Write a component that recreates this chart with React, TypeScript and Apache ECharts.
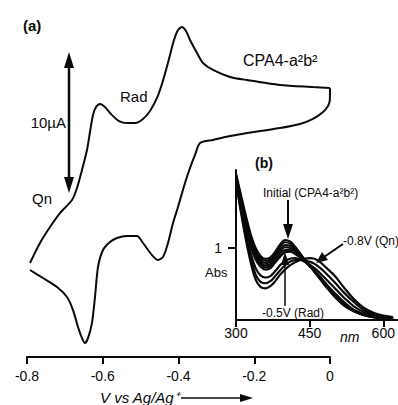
import React, { useEffect, useRef } from "react";
import * as echarts from "echarts";

// Cyclic voltammogram (a): potential in V vs Ag/Ag+, current in µA (arbitrary offset)
const cvUpperV = [0.0, -0.0449, -0.132, -0.2192, -0.264, -0.3089, -0.3353, -0.3511, -0.3696, -0.3802, -0.3908, -0.4013, -0.4119, -0.4224, -0.433, -0.4436, -0.4568, -0.4752, -0.4937, -0.5149, -0.536, -0.5571, -0.5782, -0.5941, -0.6073, -0.6178, -0.6257, -0.6337, -0.6416, -0.6548, -0.668, -0.6812, -0.7129, -0.7393, -0.7657, -0.7921];
const cvUpperI = [11.57, 11.64, 11.79, 12.14, 12.36, 12.86, 13.36, 14.07, 15.0, 15.64, 15.93, 15.71, 15.0, 13.93, 12.86, 11.86, 10.86, 9.93, 9.36, 9.07, 9.07, 9.21, 9.71, 10.21, 10.43, 10.21, 9.64, 8.43, 7.14, 5.71, 4.43, 3.57, 2.64, 1.64, 0.5, -0.93];
const cvLowerV = [-0.7921, -0.7578, -0.7208, -0.6944, -0.6785, -0.6653, -0.6548, -0.6469, -0.6389, -0.6284, -0.6205, -0.6125, -0.5993, -0.5809, -0.5624, -0.536, -0.5096, -0.4937, -0.47, -0.4541, -0.4409, -0.4277, -0.4145, -0.4013, -0.396, -0.3828, -0.3696, -0.3564, -0.3432, -0.3089, -0.264, -0.2192, -0.1848, -0.132, -0.0792, -0.0449, -0.0185, -0.0053, -0.0005, 0.0];
const cvLowerI = [-1.43, -2.0, -2.64, -3.36, -4.29, -5.5, -6.29, -6.64, -6.29, -5.21, -3.36, -1.21, 0.0, 0.57, 0.86, 1.0, 1.0, 0.5, -0.36, -0.71, -0.5, 0.5, 1.93, 3.07, 3.57, 4.79, 5.86, 6.79, 7.64, 7.86, 8.14, 8.36, 8.5, 8.71, 9.0, 9.36, 9.86, 10.29, 10.71, 11.57];
const cvTicks = [-0.8, -0.6, -0.4, -0.2, 0];

// Spectra (b): wavelength in nm, absorbance
const wavelengths = [300, 310, 320, 330, 340, 350, 360, 370, 380, 390, 400, 410, 420, 430, 440, 450, 460, 470, 480, 500, 520, 540, 560, 580, 600, 620];
const specInitial = [2.03, 1.74, 1.45, 1.19, 1.0, 0.89, 0.85, 0.87, 0.95, 1.05, 1.11, 1.09, 1.02, 0.93, 0.84, 0.76, 0.67, 0.58, 0.49, 0.33, 0.2, 0.12, 0.07, 0.04, 0.025, 0.02];
const spec2 = [2.01, 1.71, 1.41, 1.15, 0.96, 0.86, 0.82, 0.84, 0.92, 1.02, 1.08, 1.06, 1.0, 0.92, 0.83, 0.76, 0.67, 0.59, 0.5, 0.34, 0.21, 0.12, 0.07, 0.04, 0.025, 0.02];
const spec3 = [1.99, 1.69, 1.38, 1.11, 0.93, 0.83, 0.79, 0.81, 0.89, 0.98, 1.04, 1.03, 0.98, 0.9, 0.83, 0.75, 0.67, 0.59, 0.5, 0.35, 0.22, 0.13, 0.07, 0.04, 0.025, 0.02];
const spec4 = [1.98, 1.67, 1.35, 1.08, 0.9, 0.8, 0.76, 0.78, 0.86, 0.95, 1.01, 1.0, 0.96, 0.89, 0.82, 0.75, 0.68, 0.6, 0.51, 0.36, 0.23, 0.13, 0.08, 0.045, 0.03, 0.02];
const spec5 = [1.97, 1.65, 1.32, 1.05, 0.87, 0.77, 0.73, 0.75, 0.83, 0.92, 0.97, 0.97, 0.94, 0.88, 0.82, 0.75, 0.68, 0.6, 0.52, 0.37, 0.24, 0.14, 0.08, 0.045, 0.03, 0.02];
const specRad = [1.95, 1.63, 1.29, 1.02, 0.84, 0.74, 0.7, 0.72, 0.8, 0.88, 0.94, 0.95, 0.92, 0.87, 0.81, 0.75, 0.68, 0.61, 0.53, 0.38, 0.25, 0.14, 0.08, 0.045, 0.03, 0.02];
const spec7 = [1.94, 1.57, 1.22, 0.93, 0.72, 0.62, 0.59, 0.61, 0.68, 0.76, 0.82, 0.85, 0.86, 0.84, 0.81, 0.77, 0.72, 0.66, 0.59, 0.45, 0.31, 0.19, 0.11, 0.065, 0.04, 0.03];
const spec8 = [1.93, 1.53, 1.17, 0.86, 0.63, 0.53, 0.51, 0.54, 0.61, 0.69, 0.76, 0.81, 0.83, 0.84, 0.83, 0.81, 0.78, 0.73, 0.67, 0.53, 0.38, 0.25, 0.14, 0.08, 0.05, 0.035];
const specQn = [1.92, 1.5, 1.12, 0.8, 0.56, 0.46, 0.44, 0.47, 0.54, 0.63, 0.7, 0.76, 0.8, 0.83, 0.85, 0.86, 0.85, 0.81, 0.75, 0.62, 0.45, 0.29, 0.17, 0.1, 0.06, 0.04];
const insetXTicks = [300, 450, 600];
const insetYTicks = [1];

const FONT = "'Liberation Sans', Arial, sans-serif";
const INK = "#0a0a0a";

function pairs(xs: number[], ys: number[]) {
  return xs.map((x, i) => [x, ys[i]]);
}

function txt(text: string, x: number, y: number, size: number, opts: any = {}) {
  return {
    type: "text",
    x,
    y,
    silent: true,
    style: {
      text,
      font: `${opts.italic ? "italic " : ""}${opts.bold ? "bold " : ""}${size}px ${FONT}`,
      fill: INK,
      textAlign: opts.align || "left",
      textVerticalAlign: "middle",
      verticalAlign: "middle",
    },
  };
}

function line(x1: number, y1: number, x2: number, y2: number, w = 2) {
  return { type: "line", silent: true, shape: { x1, y1, x2, y2 }, style: { stroke: INK, lineWidth: w } };
}

function head(points: number[][]) {
  return { type: "polygon", silent: true, shape: { points }, style: { fill: INK } };
}

export default function App() {
  const ref = useRef<HTMLDivElement>(null);
  useEffect(() => {
    if (!ref.current) return;
    const chart = echarts.init(ref.current, null, { renderer: "svg" });
    const specs = [specInitial, spec2, spec3, spec4, spec5, specRad, spec7, spec8, specQn];
    const option: any = {
      animation: false,
      backgroundColor: "#ffffff",
      grid: [
        { left: 27, top: 20, width: 303, height: 337 },
        { left: 236, top: 170, width: 162, height: 150 },
      ],
      xAxis: [
        {
          type: "value",
          gridIndex: 0,
          min: -0.8,
          max: 0,
          interval: 0.2,
          axisLine: { onZero: false, lineStyle: { color: INK, width: 2 } },
          axisTick: { show: true, inside: false, length: 7, lineStyle: { color: INK, width: 2 } },
          axisLabel: {
            color: INK,
            fontSize: 14,
            fontFamily: FONT,
            margin: 12,
            customValues: cvTicks,
            formatter: (v: number) => (Math.abs(v) < 1e-9 ? "0" : v.toFixed(1)),
          },
          splitLine: { show: false },
        },
        {
          type: "value",
          gridIndex: 1,
          min: 300,
          max: 630,
          axisLine: { onZero: false, lineStyle: { color: INK, width: 2 } },
          axisTick: { show: true, inside: false, length: 7, customValues: insetXTicks, lineStyle: { color: INK, width: 2 } },
          axisLabel: { color: INK, fontSize: 14, fontFamily: FONT, margin: 6, customValues: insetXTicks },
          splitLine: { show: false },
        },
      ],
      yAxis: [
        { type: "value", gridIndex: 0, min: -7.643, max: 16.429, show: false },
        {
          type: "value",
          gridIndex: 1,
          min: 0,
          max: 2.083,
          axisLine: { show: true, onZero: false, lineStyle: { color: INK, width: 2 } },
          axisTick: { show: true, inside: false, length: 8, customValues: insetYTicks, lineStyle: { color: INK, width: 2 } },
          axisLabel: { show: true, color: INK, fontSize: 14, fontFamily: FONT, margin: 14, customValues: insetYTicks },
          splitLine: { show: false },
        },
      ],
      series: [
        {
          type: "line",
          xAxisIndex: 0,
          yAxisIndex: 0,
          data: pairs(cvUpperV, cvUpperI),
          showSymbol: false,
          smooth: 0.25,
          lineStyle: { color: INK, width: 2 },
          silent: true,
        },
        {
          type: "line",
          xAxisIndex: 0,
          yAxisIndex: 0,
          data: pairs(cvLowerV, cvLowerI),
          showSymbol: false,
          smooth: 0.25,
          lineStyle: { color: INK, width: 2 },
          silent: true,
        },
        ...specs.map((s) => ({
          type: "line",
          xAxisIndex: 1,
          yAxisIndex: 1,
          data: pairs(wavelengths, s),
          showSymbol: false,
          smooth: 0.4,
          lineStyle: { color: INK, width: 2.2 },
          silent: true,
        })),
      ],
      graphic: [
        txt("(a)", 23, 25, 15, { bold: true }),
        txt("10µA", 66, 122, 15, { align: "right" }),
        line(69, 62, 69, 183, 2.5),
        head([[69, 52], [64, 68], [74, 68]]),
        head([[69, 193], [64, 177], [74, 177]]),
        txt("Rad", 120, 96, 15),
        txt("Qn", 32, 198, 15),
        txt("CPA4-a²b²", 243, 60, 16),
        txt("(b)", 255, 163, 14, { bold: true }),
        txt("Initial (CPA4-a²b²)", 263, 193, 12),
        line(288, 200, 288, 228, 2),
        head([[288, 239], [283, 224], [293, 224]]),
        txt("-0.8V (Qn)", 343, 241, 12),
        line(343, 244, 324, 257, 2),
        head([[316, 263], [322, 252], [328, 260]]),
        txt("-0.5V (Rad)", 262, 313, 12),
        line(285, 306, 285, 262, 1.5),
        head([[285, 252], [281, 265], [289, 265]]),
        txt("Abs", 205, 272, 13),
        txt("nm", 340, 337, 14, { italic: true }),
        txt("V vs Ag/Ag⁺", 100, 397, 15, { italic: true }),
        line(181, 398, 242, 398, 1.5),
        head([[253, 398], [240, 394], [240, 402]]),
      ],
    };
    chart.setOption(option);
    return () => chart.dispose();
  }, []);
  return (
    <div
      ref={ref}
      style={{ position: "absolute", left: 0, top: 0, width: 398, height: 405 }}
    />
  );
}
